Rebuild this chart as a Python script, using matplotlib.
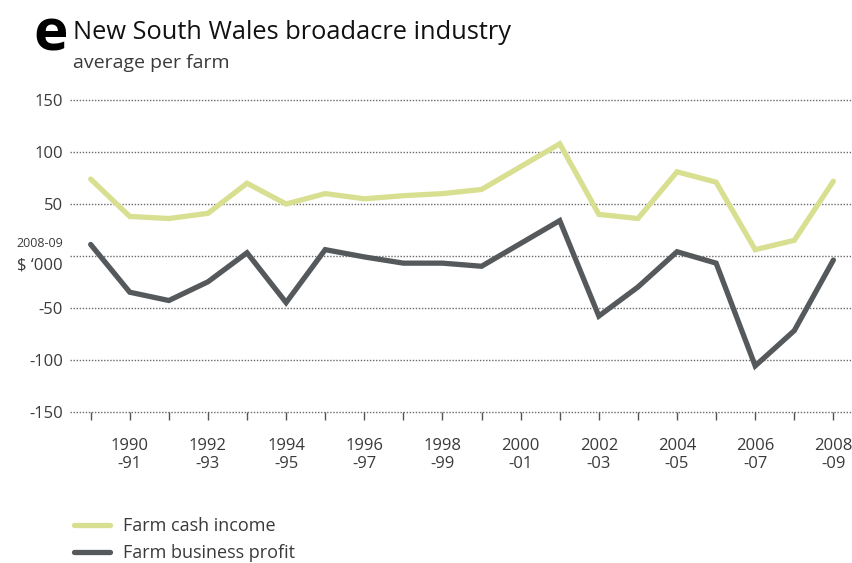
import numpy as np
import matplotlib
matplotlib.use("Agg")
import matplotlib.pyplot as plt

plt.rcParams['font.family'] = ['Open Sans', 'DejaVu Sans']

# financial years 1989-90 .. 2008-09
years = list(range(1989, 2009))
year_labels = [f"{y}\n-{(y + 1) % 100:02d}" for y in years]

# 2008-09 $'000, average per farm
cash_income = [74, 38, 36, 41, 70, 50, 60, 55, 58, 60,
               64, 86, 108, 40, 36, 81, 71, 6, 15, 72]
business_profit = [11, -35, -43, -25, 3, -45, 6, -1, -7, -7,
                   -10, 12, 34, -58, -30, 4, -7, -106, -72, -4]

yticks = [-150, -100, -50, 0, 50, 100, 150]

green = '#d9df90'
dark = '#55595b'
text_col = '#3a3a3a'

fig = plt.figure(figsize=(8.53, 5.63), dpi=100)
ax = fig.add_axes([0.082, 0.269, 0.917, 0.553])

x = np.arange(len(years))

# dotted grid lines across the full width
for v in yticks:
    ax.axhline(v, color='#6a6a6a', linestyle=(0, (1, 1.2)), linewidth=1.0,
               zorder=1, clip_on=False)

ax.plot(x, cash_income, color=green, linewidth=3.8, solid_joinstyle='miter',
        solid_capstyle='round', zorder=3, clip_on=False, label='Farm cash income')
ax.plot(x, business_profit, color=dark, linewidth=3.8, solid_joinstyle='miter',
        solid_capstyle='round', zorder=3, clip_on=False, label='Farm business profit')

ax.set_xlim(-0.53, 19.48)
ax.set_ylim(-150, 150)

for s in ax.spines.values():
    s.set_visible(False)

ax.set_xticks(x)
ax.set_xticklabels([lab if i % 2 == 1 else '' for i, lab in enumerate(year_labels)],
                   fontsize=12, color=text_col, linespacing=1.15)
ax.tick_params(axis='x', length=6, width=1, color='#555555', pad=13, direction='out')

ax.set_yticks([v for v in yticks if v != 0])
ax.set_yticklabels([str(v) for v in yticks if v != 0], fontsize=12, color=text_col)
ax.tick_params(axis='y', length=0, pad=5)

# unit label in place of the zero tick
tr = ax.get_yaxis_transform()
ax.text(-0.009, 12, '2008-09', transform=tr, ha='right', va='center',
        fontsize=9, color=text_col)
ax.text(-0.009, -9, '$ \u2018000', transform=tr, ha='right', va='center',
        fontsize=12, color=text_col)

# heading
fig.text(0.039, 0.910, 'e', fontsize=42, fontweight='bold', color='black',
         ha='left', va='baseline')
fig.text(0.086, 0.930, 'New South Wales broadacre industry', fontsize=18.3,
         color='#111111', ha='left', va='baseline')
fig.text(0.086, 0.880, 'average per farm', fontsize=14, color=text_col,
         ha='left', va='baseline')

# legend
fig.legend(loc='upper left', bbox_to_anchor=(74 / 853, 1 - 517 / 563), frameon=False,
           fontsize=13, handlelength=2.0, handletextpad=0.7, labelspacing=0.5,
           labelcolor=text_col, borderaxespad=0, borderpad=0)

fig.savefig('out.png', dpi=100)
